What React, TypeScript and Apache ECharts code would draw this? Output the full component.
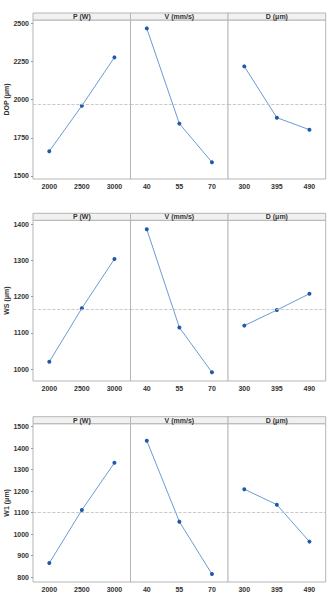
import React, { useEffect, useRef } from "react";
import * as echarts from "echarts";

const factorTitles = ["P (W)", "V (mm/s)", "D (μm)"];
const pLevels = ["2000", "2500", "3000"];
const vLevels = ["40", "55", "70"];
const dLevels = ["300", "395", "490"];

const responseNames = ["DOP (μm)", "WS (μm)", "W1 (μm)"];

const dopP = [1662, 1960, 2277];
const dopV = [2467, 1843, 1590];
const dopD = [2218, 1882, 1803];

const wsP = [1020, 1168, 1304];
const wsV = [1386, 1115, 991];
const wsD = [1120, 1163, 1208];

const w1P = [865, 1112, 1332];
const w1V = [1435, 1058, 814];
const w1D = [1209, 1137, 965];

const dopTicks = [1500, 1750, 2000, 2250, 2500];
const wsTicks = [1000, 1100, 1200, 1300, 1400];
const w1Ticks = [800, 900, 1000, 1100, 1200, 1300, 1400, 1500];

const dopRange = [1480, 2522];
const wsRange = [967, 1411];
const w1Range = [777, 1514];

export default function App() {
  const ref = useRef<HTMLDivElement>(null);
  useEffect(() => {
    if (!ref.current) return;
    const chart = echarts.init(ref.current, null, { renderer: "svg" });
    const font = "'Liberation Sans', Arial, sans-serif";
    const levels = [pLevels, vLevels, dLevels];
    const rows = [
      { name: responseNames[0], data: [dopP, dopV, dopD], ticks: dopTicks, range: dopRange, headerTop: 13, top: 20, bottom: 179 },
      { name: responseNames[1], data: [wsP, wsV, wsD], ticks: wsTicks, range: wsRange, headerTop: 213.3, top: 220.3, bottom: 381 },
      { name: responseNames[2], data: [w1P, w1V, w1D], ticks: w1Ticks, range: w1Range, headerTop: 416.7, top: 423.7, bottom: 583.3 },
    ];
    const lefts = [33, 130.5, 228];
    const panelW = 97.7;
    const grids: any[] = [];
    const xAxes: any[] = [];
    const yAxes: any[] = [];
    const series: any[] = [];
    const graphics: any[] = [];
    const labelStyle = { fontFamily: font, fontSize: 7, fontWeight: "bold", color: "#333" };
    rows.forEach((row, r) => {
      const all = row.data.flat();
      const mean = all.reduce((a, b) => a + b, 0) / all.length;
      for (let c = 0; c < 3; c++) {
        const idx = r * 3 + c;
        grids.push({
          left: lefts[c],
          top: row.top,
          width: panelW,
          height: row.bottom - row.top,
          show: true,
          borderColor: "#b5b5b5",
          borderWidth: 1,
          backgroundColor: "#fff",
        });
        xAxes.push({
          type: "category",
          gridIndex: idx,
          data: levels[c],
          boundaryGap: true,
          axisLine: { show: false },
          axisTick: { show: false },
          axisLabel: { ...labelStyle, margin: 4 },
          splitLine: { show: false },
        });
        yAxes.push({
          type: "value",
          gridIndex: idx,
          min: row.range[0],
          max: row.range[1],
          name: c === 0 ? row.name : "",
          nameLocation: "middle",
          nameRotate: 90,
          nameGap: 21,
          nameTextStyle: { fontFamily: font, fontSize: 7, fontWeight: "bold", color: "#333" },
          axisLine: { show: false },
          axisTick: { show: c === 0, length: 2, lineStyle: { color: "#999" }, customValues: row.ticks },
          axisLabel: {
            show: c === 0,
            ...labelStyle,
            margin: 4,
            customValues: row.ticks,
            formatter: (v: number) => String(v),
          },
          splitLine: { show: false },
        });
        series.push({
          type: "line",
          xAxisIndex: idx,
          yAxisIndex: idx,
          data: row.data[c],
          symbol: "circle",
          symbolSize: 4,
          itemStyle: { color: "#1f5aa6" },
          lineStyle: { color: "#6a9bd6", width: 1 },
          markLine: {
            silent: true,
            symbol: "none",
            label: { show: false },
            lineStyle: { color: "#bdbdbd", type: "dashed", width: 0.8 },
            data: [{ yAxis: mean }],
          },
        });
        graphics.push({
          type: "rect",
          shape: { x: lefts[c], y: row.headerTop, width: panelW, height: row.top - row.headerTop },
          style: { fill: "#f1f1f1", stroke: "#b5b5b5", lineWidth: 1 },
        });
        graphics.push({
          type: "text",
          x: lefts[c] + panelW / 2,
          y: (row.headerTop + row.top) / 2,
          style: {
            text: factorTitles[c],
            fontFamily: font,
            fontSize: 7,
            fontWeight: "bold",
            fill: "#333",
            align: "center",
            verticalAlign: "middle",
          },
        });
      }
    });
    chart.setOption({
      animation: false,
      backgroundColor: "#fff",
      grid: grids,
      xAxis: xAxes,
      yAxis: yAxes,
      series,
      graphic: graphics,
    });
    return () => chart.dispose();
  }, []);
  return <div ref={ref} style={{ position: "fixed", left: 0, top: 0, width: 330, height: 593 }} />;
}
